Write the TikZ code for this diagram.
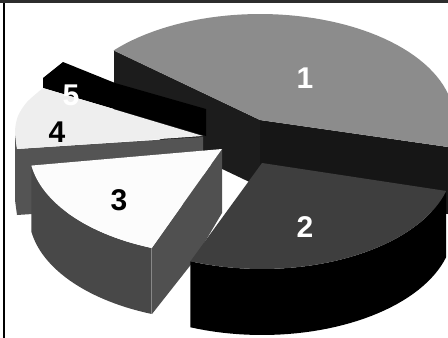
\documentclass[tikz,border=0pt]{standalone}
\usepackage{fontspec}
\setmainfont{Liberation Sans}
\definecolor{topone}{HTML}{8C8C8C}
\definecolor{sideone}{HTML}{1C1C1C}
\definecolor{toptwo}{HTML}{3E3E3E}
\definecolor{topthree}{HTML}{FCFCFC}
\definecolor{sidethree}{HTML}{484848}
\definecolor{cutthree}{HTML}{505050}
\definecolor{topfour}{HTML}{EEEEEE}
\definecolor{sidefour}{HTML}{545454}
\definecolor{framegray}{HTML}{2D2D2D}
\begin{document}
\begin{tikzpicture}[x=1pt,y=-1pt,lbl/.style={font=\fontsize{30}{30}\selectfont\bfseries}]
\useasboundingbox (0,0) rectangle (448,338);
\clip (0,0) rectangle (448,338);
\fill[sideone] (114,50.5) -- (260,120) -- (260,187) -- (114,117.5) -- cycle;
\fill[sideone!80!black] (260,120) -- (448,147) -- (448,214) -- (260,187) -- cycle;
\fill[sideone] plot[domain=0:14.7,samples=10] ({260+194*cos(\x)},{120+106*sin(\x)}) -- plot[domain=14.7:0,samples=10] ({260+194*cos(\x)},{187+106*sin(\x)}) -- cycle;
\fill[topone] (260,120) -- plot[domain=-139:14.7,samples=60] ({260+194*cos(\x)},{120+106*sin(\x)}) -- cycle;
\fill[black] (63,62) -- (115,83) -- (206,109) -- (206,136) -- (43,88) -- (43,78) -- cycle;
\fill[sidefour] (15,131) -- (17,149) -- (203,137) -- (203,203) -- (17,215) -- (15,200) -- cycle;
\fill[topfour] (203,136) -- plot[smooth] coordinates {(43,88) (27,102) (18,116) (15,131) (17,149)} -- cycle;
\fill[sidethree] plot[domain=111:171,samples=30] ({220+191*cos(\x)},{149+106*sin(\x)}) -- plot[domain=171:111,samples=30] ({220+191*cos(\x)},{215+106*sin(\x)}) -- cycle;
\fill[cutthree] (152,248) -- (222,149) -- (222,213) -- (193,262) -- (152,314) -- cycle;
\fill[topthree] (222,149) -- plot[domain=111:171,samples=30] ({220+191*cos(\x)},{149+106*sin(\x)}) -- cycle;
\fill[black] plot[domain=15.3:112,samples=40] ({262+191*cos(\x)},{163+106*sin(\x)}) -- plot[domain=112:15.3,samples=40] ({262+191*cos(\x)},{229+106*sin(\x)}) -- cycle;
\fill[toptwo] (262,163) -- plot[domain=15.3:112,samples=40] ({262+191*cos(\x)},{163+106*sin(\x)}) -- cycle;
\fill[framegray] (0,0) rectangle (448,3);
\draw[line width=1.2pt] (4,3) -- (4,338);
\node[lbl,white] (one) at (305,78) {1};
\node[lbl,white] (two) at (305,227) {2};
\node[lbl] (three) at (119,200) {3};
\node[lbl] (four) at (57,132) {4};
\node[lbl,white] (five) at (71,95) {5};
\end{tikzpicture}
\end{document}
